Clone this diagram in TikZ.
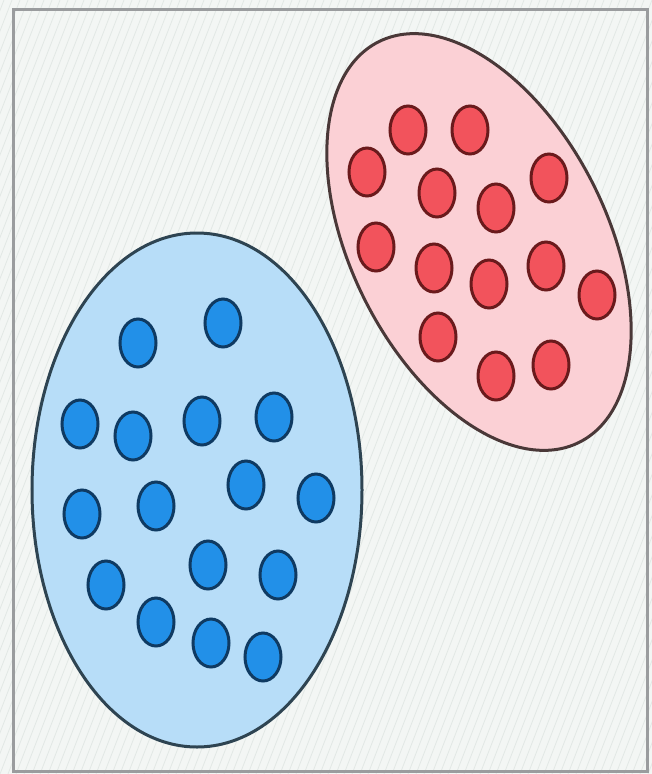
\documentclass[tikz,border=0pt]{standalone}
\usetikzlibrary{calc}
\definecolor{bgc}{HTML}{F3F6F4}
\definecolor{hatchc}{HTML}{E2E8E5}
\definecolor{framec}{HTML}{9A9C9E}
\definecolor{bluefill}{HTML}{B7DDF8}
\definecolor{blueline}{HTML}{2E4452}
\definecolor{bdotfill}{HTML}{2290E8}
\definecolor{bdotline}{HTML}{0F3A62}
\definecolor{redfill}{HTML}{FBD0D5}
\definecolor{redline}{HTML}{4A3838}
\definecolor{rdotfill}{HTML}{F2535C}
\definecolor{rdotline}{HTML}{6A1A1C}
\tikzset{
  hatch/.style={draw=hatchc, line width=0.8pt},
  framebox/.style={draw=framec, line width=3pt},
  bluegroup/.style={draw=blueline, fill=bluefill, line width=3pt},
  redgroup/.style={draw=redline, fill=redfill, line width=3pt},
  bdot/.style={draw=bdotline, fill=bdotfill, line width=3pt},
  rdot/.style={draw=rdotline, fill=rdotfill, line width=3pt},
}
\begin{document}
\begin{tikzpicture}[x=1pt,y=-1pt]
\useasboundingbox (0,0) rectangle (652,774);
\fill[bgc] (0,0) rectangle (652,774);
\begin{scope}
\clip (0,0) rectangle (652,774);
\foreach \i in {-320,-312,...,660} \draw[hatch] (\i,774) -- ({\i+300},0);
\end{scope}
\draw[framebox] (13,9) rectangle (647,771);
% blue group
\draw[bluegroup] (197,490) ellipse [x radius=165pt, y radius=257pt];
\foreach \x/\y in {138/343, 223/323, 80/424, 133/436, 202/421, 274/417, 246/485, 316/498, 82/514, 156/506, 208/565, 278/575, 106/585, 156/622, 211/643, 263/657}
  \draw[bdot] (\x,\y) ellipse [x radius=18pt, y radius=24pt];
% red group
\draw[redgroup, rotate around={26.6:(479,242)}] (479,242) ellipse [x radius=128pt, y radius=224pt];
\foreach \x/\y in {408/130, 470/130, 367/172, 437/193, 496/208, 549/178, 376/247, 434/268, 489/284, 546/266, 597/295, 438/337, 496/376, 551/365}
  \draw[rdot] (\x,\y) ellipse [x radius=18pt, y radius=24pt];
\end{tikzpicture}
\end{document}
